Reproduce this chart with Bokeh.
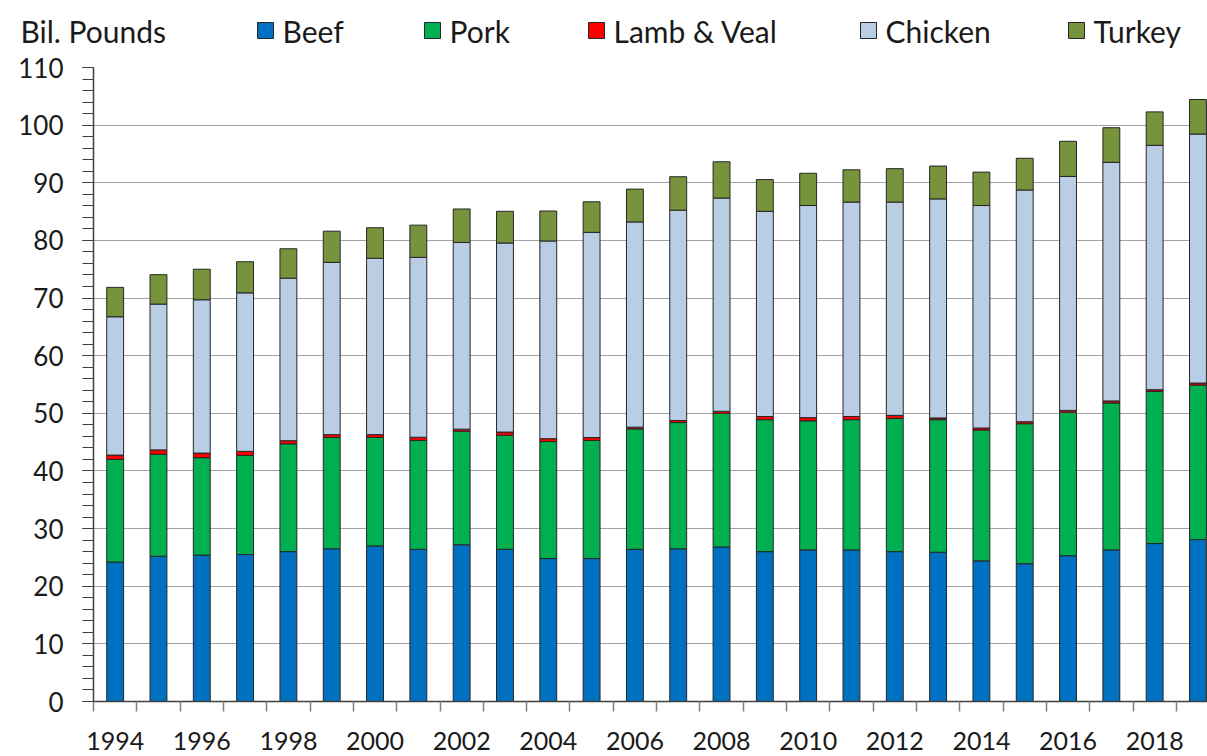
from bokeh.plotting import figure
from bokeh.layouts import column
from bokeh.models import ColumnDataSource, FixedTicker, Range1d
from bokeh.core.properties import value
from bokeh.embed import file_html
from bokeh.resources import INLINE

# ---------------- data (billion pounds) ----------------
years = list(range(1994, 2020))
beef = [24.2, 25.2, 25.4, 25.5, 26.0, 26.5, 27.0, 26.4, 27.2, 26.4, 24.8, 24.8, 26.4,
        26.5, 26.8, 26.0, 26.3, 26.3, 26.0, 25.9, 24.4, 23.9, 25.3, 26.3, 27.4, 28.1]
pork = [17.8, 17.7, 16.9, 17.2, 18.7, 19.3, 18.8, 18.9, 19.7, 19.8, 20.3, 20.5, 20.9,
        21.9, 23.2, 22.9, 22.4, 22.6, 23.1, 23.0, 22.7, 24.3, 24.9, 25.5, 26.4, 26.8]
lamb_veal = [0.75, 0.75, 0.8, 0.7, 0.55, 0.5, 0.5, 0.55, 0.35, 0.55, 0.5, 0.5, 0.3,
             0.35, 0.35, 0.55, 0.55, 0.55, 0.55, 0.3, 0.35, 0.35, 0.3, 0.35, 0.3, 0.35]
chicken = [24.0, 25.3, 26.6, 27.5, 28.2, 29.9, 30.6, 31.2, 32.4, 32.8, 34.3, 35.6, 35.6,
           36.5, 37.0, 35.6, 36.8, 37.2, 37.0, 38.0, 38.6, 40.2, 40.6, 41.4, 42.4, 43.2]
turkey = [5.1, 5.1, 5.3, 5.4, 5.1, 5.4, 5.3, 5.6, 5.8, 5.5, 5.2, 5.3, 5.7,
          5.8, 6.3, 5.5, 5.6, 5.6, 5.8, 5.7, 5.8, 5.5, 6.1, 6.0, 5.8, 6.0]

series_keys = ["beef", "pork", "lamb_veal", "chicken", "turkey"]
series_names = ["Beef", "Pork", "Lamb & Veal", "Chicken", "Turkey"]
series_colors = ["#0070C0", "#00B050", "#FF0000", "#B9CDE5", "#77933C"]
y_ticks = list(range(0, 111, 10))
y_minor_ticks = list(range(0, 111, 2))
x_label_years = list(range(1994, 2019, 2))
unit_label = "Bil. Pounds"

# ---------------- styling / layout ----------------
FONT = "Lato"
TEXT_COLOR = "#1a1a1a"
W = 1207
TOP_H = 50
MAIN_H = 756 - TOP_H

source = ColumnDataSource(dict(year=years, beef=beef, pork=pork, lamb_veal=lamb_veal,
                               chicken=chicken, turkey=turkey))

p = figure(width=W, height=MAIN_H,
           x_range=Range1d(1993.5, 2019.22), y_range=Range1d(0, 110),
           output_backend="svg", toolbar_location=None,
           min_border_left=93, min_border_right=0,
           min_border_top=67 - TOP_H, min_border_bottom=55)

p.vbar_stack(series_keys, x="year", width=0.39, fill_color=series_colors,
             line_color="#262626", line_width=1, source=source)

p.outline_line_color = None
p.xgrid.visible = False
p.ygrid.ticker = FixedTicker(ticks=y_ticks)
p.ygrid.grid_line_color = "#a3a3a3"
p.ygrid.grid_line_width = 1.2
p.ygrid.level = "underlay"

xa = p.xaxis[0]
xa.ticker = FixedTicker(ticks=x_label_years, minor_ticks=[y - 0.5 for y in years] + [2019.5])
xa.major_tick_in = 0
xa.major_tick_out = 0
xa.minor_tick_in = 0
xa.minor_tick_out = 10
xa.minor_tick_line_color = "#808080"
xa.minor_tick_line_width = 1.5
xa.axis_line_color = "#404040"
xa.axis_line_width = 1.5
xa.major_label_standoff = 20
xa.major_label_text_font = FONT
xa.major_label_text_font_size = "25px"
xa.major_label_text_color = TEXT_COLOR

ya = p.yaxis[0]
ya.ticker = FixedTicker(ticks=y_ticks, minor_ticks=y_minor_ticks)
ya.major_tick_in = 0
ya.major_tick_out = 11
ya.minor_tick_in = 0
ya.minor_tick_out = 11
ya.major_tick_line_color = "#404040"
ya.minor_tick_line_color = "#404040"
ya.axis_line_color = "#404040"
ya.axis_line_width = 1.5
ya.major_label_standoff = 19
ya.major_label_text_font = FONT
ya.major_label_text_font_size = "26px"
ya.major_label_text_color = TEXT_COLOR

# ---------------- legend strip on top ----------------
t = figure(width=W, height=TOP_H, x_range=Range1d(0, W), y_range=Range1d(TOP_H, 0),
           output_backend="svg", toolbar_location=None, min_border=0,
           x_axis_location=None, y_axis_location=None)
t.grid.visible = False
t.outline_line_color = None

for fig in (t, p):
    try:
        fig.frame_align = False
    except Exception:
        pass

swatch_left = [257, 424, 588, 860, 1068]
SW = 16
ROW_Y = 30
t.rect(x=[sx + SW / 2 for sx in swatch_left], y=[ROW_Y] * 5, width=SW, height=SW,
       fill_color=series_colors, line_color="#262626", line_width=1)
t.text(x=[sx + SW + 9 for sx in swatch_left], y=[ROW_Y] * 5, text=series_names,
       text_baseline="middle", text_align="left", text_font=value(FONT),
       text_font_size="30px", text_color=TEXT_COLOR)
t.text(x=[20], y=[ROW_Y], text=[unit_label], text_baseline="middle", text_align="left",
       text_font=value(FONT), text_font_size="30px", text_color=TEXT_COLOR)

layout = column(t, p, spacing=0)
open("out.html", "w").write(file_html(layout, INLINE))
